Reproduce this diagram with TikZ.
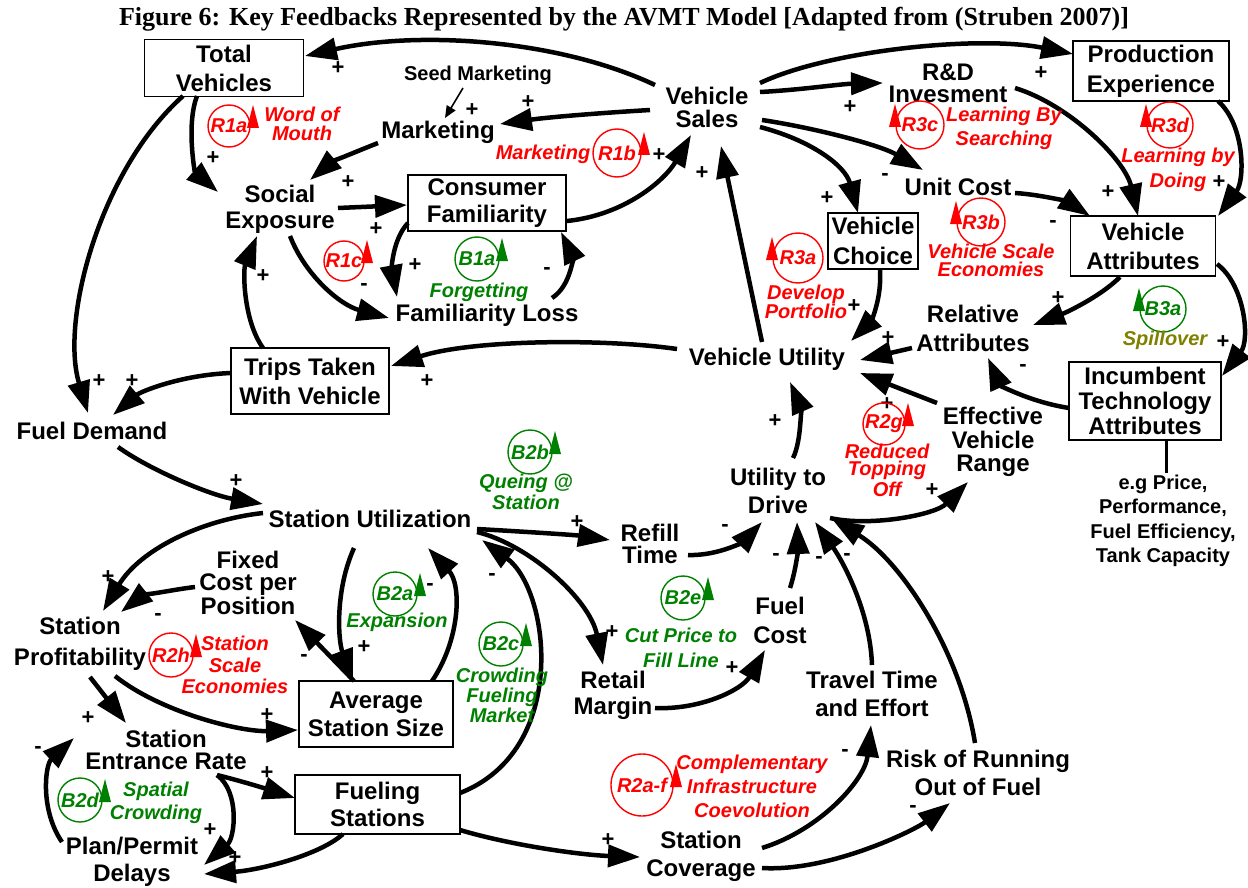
\documentclass[tikz,border=0pt]{standalone}
\usepackage{fontspec}
\setmainfont{Liberation Sans}
\newfontfamily\titlefont{Liberation Serif}
\usetikzlibrary{arrows.meta,calc}
\definecolor{lred}{RGB}{255,0,0}
\definecolor{lgreen}{RGB}{0,128,0}
\definecolor{lolive}{RGB}{128,128,0}
\newcommand{\loopR}[6]{%
  \draw[#6, line width=0.7pt] (#2,#3) circle[radius=#4*0.5pt];
  \fill[#6] (#2+#4+3,#3-21) -- (#2+#4-3,#3+2) -- (#2+#4+9,#3+2) -- cycle;
  \node[lpn, text=#6] (#1) at (#2,#3) {#5};}
\newcommand{\loopL}[6]{%
  \draw[#6, line width=0.7pt] (#2,#3) circle[radius=#4*0.5pt];
  \fill[#6] (#2-#4-1,#3-21) -- (#2-#4-7,#3+2) -- (#2-#4+5,#3+2) -- cycle;
  \node[lpn, text=#6] (#1) at (#2,#3) {#5};}
\begin{document}
\begin{tikzpicture}[x=0.5pt,y=-0.5pt,
  vt/.style={font=\bfseries\fontsize{12}{#1}\selectfont, align=center, inner sep=3pt},
  vt/.default=14.5,
  bx/.style={vt=#1, draw, line width=0.7pt, inner sep=0pt},
  bx/.default=14.5,
  lk/.style={line width=2.25pt, -{Triangle[length=16pt,width=11pt]}},
  pm/.style={font=\bfseries\fontsize{11}{11}\selectfont, inner sep=0pt},
  lpn/.style={font=\bfseries\itshape\fontsize{10}{10}\selectfont, inner sep=0pt},
  lpd/.style={font=\bfseries\itshape\fontsize{10}{#1}\selectfont, align=center, inner sep=0pt},
  lpd/.default=10,
]
\useasboundingbox (0,0) rectangle (1248,888);
\node[font=\titlefont\bfseries\fontsize{13}{13}\selectfont] (title) at (624,19)
  {Figure 6: Key Feedbacks Represented by the AVMT Model [Adapted from (Struben 2007)]};

% ---------- boxes ----------
\node[bx, minimum width=79.5pt, minimum height=28.5pt] (tv) at (224,68) {Total\\Vehicles};
\node[bx=15, minimum width=78pt, minimum height=30pt] (pe) at (1151,71) {Production\\Experience};
\node[bx=13.5, minimum width=79pt, minimum height=28pt] (cf) at (487,203) {Consumer\\Familiarity};
\node[bx=15, minimum width=45pt, minimum height=28pt] (vc) at (873,241) {Vehicle\\Choice};
\node[bx, minimum width=72.5pt, minimum height=30pt] (va) at (1143,246) {Vehicle\\Attributes};
\node[bx, minimum width=79pt, minimum height=33pt] (trips) at (310,381) {Trips Taken\\With Vehicle};
\node[bx=12.3, minimum width=76pt, minimum height=39pt] (ita) at (1145,401) {Incumbent\\Technology\\Attributes};
\node[bx=14, minimum width=77pt, minimum height=33pt] (ass) at (376,714) {Average\\Station Size};
\node[bx=13.5, minimum width=82.5pt, minimum height=29.5pt] (fs) at (377.5,804.5) {Fueling\\Stations};

% ---------- plain variables ----------
\node[font=\bfseries\fontsize{10}{10}\selectfont, inner sep=2pt] (seed) at (478,75) {Seed Marketing};
\node[vt] (mkt) at (438,132) {Marketing};
\node[vt=11.5] (sales) at (707,107) {Vehicle\\Sales};
\node[vt=11] (rd) at (948,83) {R\&D\\Invesment};
\node[vt] (uc) at (958,187) {Unit Cost};
\node[vt=13] (se) at (280,209) {Social\\Exposure};
\node[vt] (fl) at (487,315) {Familiarity Loss};
\node[vt] (ra) at (973,328) {Relative\\Attributes};
\node[vt] (vu) at (767,359) {Vehicle Utility};
\node[vt] (fd) at (92,431) {Fuel Demand};
\node[font=\bfseries\fontsize{10}{12.2}\selectfont, align=center, inner sep=2pt] (eg) at (1163,521)
  {e.g Price,\\Performance,\\Fuel Efficiency,\\Tank Capacity};
\node[vt=11.75] (evr) at (993,442) {Effective\\Vehicle\\Range};
\node[vt=14] (utd) at (778,491) {Utility to\\Drive};
\node[vt] (su) at (370,519) {Station Utilization};
\node[vt=11] (rt) at (650,544) {Refill\\Time};
\node[vt=10.75] (fcp) at (248,583) {Fixed\\Cost per\\Position};
\node[vt=15.5] (sp) at (80,644) {Station\\Profitability};
\node[vt] (fc) at (780,620) {Fuel\\Cost};
\node[vt=13] (rm) at (613,695) {Retail\\Margin};
\node[vt=14] (tt) at (872,694) {Travel Time\\and Effort};
\node[vt=11] (ser) at (166,750) {Station\\Entrance Rate};
\node[vt=14] (risk) at (978,773) {Risk of Running\\Out of Fuel};
\node[vt=13.5] (ppd) at (132,862) {Plan/Permit\\Delays};
\node[vt=14] (sc) at (701,856) {Station\\Coverage};

% ---------- connectors ----------
\draw[lk] ($(sales)+(-52,-22)$) .. controls (560,40) and (420,30) .. ($(tv)+(81,-12)$);
\draw[lk] ($(sales)+(-57,3)$) .. controls (600,113) and (550,117) .. ($(mkt)+(62,-8)$);
\draw[line width=0.8pt, -{Triangle[length=6pt,width=5pt]}] ($(seed)+(-15,13)$) -- ($(mkt)+(7,-14)$);
\draw[lk] ($(mkt)+(-60,11)$) .. controls (355,152) and (330,163) .. ($(se)+(30,-29)$);
\draw[lk] ($(tv)+(-27,28)$) .. controls (186,125) and (195,172) .. ($(se)+(-62,-17)$);
\draw[lk] ($(tv)+(-41,28)$) .. controls (100,170) and (60,320) .. ($(fd)+(-4,-18)$);
\draw[lk] ($(se)+(58,-1)$) -- ($(cf)+(-80,2)$);
\draw[lk] ($(se)+(10,27)$) .. controls (305,275) and (340,305) .. ($(fl)+(-98,3)$);
\draw[lk] ($(cf)+(-79,20)$) .. controls (392,240) and (392,270) .. ($(fl)+(-90,-18)$);
\draw[lk] ($(fl)+(65,-17)$) .. controls (572,285) and (572,255) .. ($(cf)+(74,29)$);
\draw[lk] ($(cf)+(80,18)$) .. controls (625,215) and (665,180) .. ($(sales)+(-16,28)$);
\draw[lk] ($(vu)+(-5,-17)$) -- ($(sales)+(14,39)$);
\draw[lk] ($(trips)+(-47,-33)$) .. controls (243,320) and (243,270) .. ($(se)+(-23,27)$);
\draw[lk] ($(vu)+(-90,-10)$) .. controls (600,338) and (470,340) .. ($(trips)+(81,-15)$);
\draw[lk] ($(trips)+(-79,-8)$) .. controls (180,375) and (140,392) .. ($(fd)+(21,-16)$);
\draw[lk] ($(fd)+(26,16)$) .. controls (150,470) and (210,495) .. ($(su)+(-107,-15)$);
\draw[lk] ($(sales)+(53,-15)$) .. controls (800,90) and (840,84) .. ($(rd)+(-65,0)$);
\draw[lk] ($(sales)+(53,-24)$) .. controls (830,50) and (980,35) .. ($(pe)+(-78,-17)$);
\draw[lk] ($(sales)+(55,13)$) .. controls (815,128) and (880,145) .. ($(uc)+(-35,-17)$);
\draw[lk] ($(sales)+(53,20)$) .. controls (810,140) and (845,165) .. ($(vc)+(-15,-28)$);
\draw[lk] ($(rd)+(67,5)$) .. controls (1070,105) and (1125,160) .. ($(va)+(-5,-30)$);
\draw[lk] ($(pe)+(67,30)$) .. controls (1245,125) and (1245,180) .. ($(va)+(75,-30)$);
\draw[lk] ($(uc)+(57,6)$) .. controls (1045,195) and (1070,203) .. ($(va)+(-53,-30)$);
\draw[lk] ($(vc)+(7,29)$) .. controls (882,300) and (870,322) .. ($(vu)+(84,-18)$);
\draw[lk] ($(va)+(-23,31)$) .. controls (1100,297) and (1065,313) .. ($(ra)+(60,-3)$);
\draw[lk] ($(va)+(74,18)$) .. controls (1245,285) and (1250,340) .. ($(ita)+(77,-25)$);
\draw[lk] ($(ra)+(-61,20)$) -- ($(vu)+(93,1)$);
\draw[lk] ($(ita)+(-76,7)$) .. controls (1030,402) and (1000,385) .. ($(ra)+(15,30)$);
\draw[lk] ($(evr)+(-56,-39)$) -- ($(vu)+(93,14)$);
\draw[lk] ($(utd)+(15,-33)$) .. controls (802,440) and (800,405) .. ($(vu)+(23,23)$);
\draw[lk] ($(utd)+(52,27)$) .. controls (870,527) and (935,515) .. ($(evr)+(-25,40)$);
\draw[lk] ($(su)+(107,10)$) .. controls (530,532) and (575,535) .. ($(rt)+(-40,-4)$);
\draw[lk] ($(rt)+(38,11)$) .. controls (720,556) and (745,540) .. ($(utd)+(-16,31)$);
\draw[lk] ($(fc)+(10,-32)$) .. controls (796,570) and (798,548) .. ($(utd)+(19,31)$);
\draw[lk] ($(tt)+(0,-29)$) .. controls (870,610) and (842,560) .. ($(utd)+(37,31)$);
\draw[lk] ($(risk)+(-3,-30)$) .. controls (960,650) and (900,560) .. ($(utd)+(54,28)$);
\draw[lk] ($(su)+(107,13)$) .. controls (530,545) and (590,600) .. ($(rm)+(-10,-30)$);
\draw[lk] ($(fs)+(82.5,-11.5)$) .. controls (570,750) and (550,590) .. ($(su)+(112,21)$);
\draw[lk] ($(ass)+(56,-33)$) .. controls (460,640) and (462,585) .. ($(su)+(58,29)$);
\draw[lk] ($(su)+(-16,29)$) .. controls (335,590) and (338,640) .. ($(ass)+(-23,-33)$);
\draw[lk] ($(ass)+(-22,-33)$) -- ($(fcp)+(47,37)$);
\draw[lk] ($(fcp)+(-53,4)$) .. controls (170,590) and (140,597) .. ($(sp)+(41,-32)$);
\draw[lk] ($(su)+(-107,-6)$) .. controls (200,520) and (140,550) .. ($(sp)+(23,-33)$);
\draw[lk] ($(sp)+(35,32)$) .. controls (160,712) and (240,732) .. ($(ass)+(-78,16)$);
\draw[lk] ($(sp)+(10,33)$) -- ($(ser)+(-40,-27)$);
\draw[lk] ($(ppd)+(-70,-20)$) .. controls (40,810) and (45,765) .. ($(ser)+(-92,-12)$);
\draw[lk] ($(ser)+(51,25)$) .. controls (245,782) and (270,790) .. ($(fs)+(-82.5,-6.5)$);
\draw[lk] ($(ser)+(51,25)$) .. controls (240,792) and (235,838) .. ($(ppd)+(72,3)$);
\draw[lk] ($(fs)+(-34.5,29.5)$) .. controls (320,855) and (260,870) .. ($(ppd)+(72,12)$);
\draw[lk] ($(fs)+(82.5,25.5)$) .. controls (510,845) and (580,855) .. ($(sc)+(-61,1)$);
\draw[lk] ($(sc)+(61,-8)$) .. controls (820,830) and (865,780) .. ($(tt)+(-1,31)$);
\draw[lk] ($(sc)+(61,12)$) .. controls (830,872) and (915,830) .. ($(risk)+(-28,30)$);
\draw[lk] ($(rm)+(42,13)$) .. controls (700,710) and (742,690) .. ($(fc)+(-15,30)$);
\draw[line width=1.5pt] ($(ita)+(21,39)$) -- ($(eg)+(3,-48)$);

% ---------- polarities ----------
\node[pm] (p1) at (338,68) {+};
\node[pm] (p2) at (528,102) {+};
\node[pm] (p3) at (472,110) {+};
\node[pm] (p4) at (213,158) {+};
\node[pm] (p5) at (348,182) {+};
\node[pm] (p6) at (376,229) {+};
\node[pm] (p7) at (364,287) {-};
\node[pm] (p8) at (415,265) {+};
\node[pm] (p9) at (547,271) {-};
\node[pm] (p10) at (659,155) {+};
\node[pm] (p11) at (702,173) {+};
\node[pm] (p12) at (263,276) {+};
\node[pm] (p13) at (99,381) {+};
\node[pm] (p14) at (132,381) {+};
\node[pm] (p15) at (427,381) {+};
\node[pm] (p16) at (236,481) {+};
\node[pm] (p17) at (850,107) {+};
\node[pm] (p18) at (1041,73) {+};
\node[pm] (p19) at (885,177) {-};
\node[pm] (p20) at (827,198) {+};
\node[pm] (p21) at (1108,192) {+};
\node[pm] (p22) at (1219,182) {+};
\node[pm] (p23) at (1053,224) {-};
\node[pm] (p24) at (854,306) {+};
\node[pm] (p25) at (1058,298) {+};
\node[pm] (p26) at (1223,342) {+};
\node[pm] (p27) at (888,338) {+};
\node[pm] (p28) at (1023,368) {-};
\node[pm] (p29) at (887,404) {+};
\node[pm] (p30) at (775,421) {+};
\node[pm] (p31) at (932,490) {+};
\node[pm] (p32) at (577,522) {+};
\node[pm] (p33) at (725,528) {-};
\node[pm] (p34) at (776,557) {-};
\node[pm] (p35) at (819,560) {-};
\node[pm] (p36) at (847,557) {-};
\node[pm] (p37) at (612,632) {+};
\node[pm] (p38) at (492,577) {-};
\node[pm] (p39) at (430,587) {-};
\node[pm] (p40) at (364,647) {+};
\node[pm] (p41) at (304,658) {-};
\node[pm] (p42) at (158,617) {-};
\node[pm] (p43) at (108,577) {+};
\node[pm] (p44) at (267,715) {+};
\node[pm] (p45) at (88,718) {+};
\node[pm] (p46) at (38,750) {-};
\node[pm] (p47) at (267,773) {+};
\node[pm] (p48) at (210,830) {+};
\node[pm] (p49) at (235,858) {+};
\node[pm] (p50) at (608,840) {+};
\node[pm] (p51) at (845,753) {-};
\node[pm] (p52) at (913,809) {-};
\node[pm] (p53) at (732,668) {+};

% ---------- loop markers ----------
\loopR{l1}{229}{126}{21}{R1a}{lred}
\loopR{l2}{617}{153}{24}{R1b}{lred}
\loopR{l3}{344}{261}{20}{R1c}{lred}
\loopR{l4}{477}{259}{22}{B1a}{lgreen}
\loopL{l5}{920}{125}{24}{R3c}{lred}
\loopL{l6}{1170}{125}{23}{R3d}{lred}
\loopL{l7}{981}{222}{24}{R3b}{lred}
\loopL{l8}{798}{258}{25}{R3a}{lred}
\loopL{l9}{1163}{309}{23}{B3a}{lgreen}
\loopR{l10}{884}{424}{21}{R2g}{lred}
\loopR{l11}{530}{452}{22}{B2b}{lgreen}
\loopR{l12}{395}{594}{22}{B2a}{lgreen}
\loopR{l13}{501}{644}{22}{B2c}{lgreen}
\loopR{l14}{171}{655}{22}{R2h}{lred}
\loopR{l15}{683}{598}{22}{B2e}{lgreen}
\loopR{l16}{80}{800}{22}{B2d}{lgreen}
\loopR{l17}{642}{785}{31}{R2a-f}{lred}

% ---------- loop names ----------
\node[lpd=9.5, text=lred] (d1) at (302,124) {Word of\\Mouth};
\node[lpd, text=lred] (d2) at (543,154) {Marketing};
\node[lpd, text=lgreen] (d3) at (479,292) {Forgetting};
\node[lpd=12, text=lred] (d4) at (1004,128) {Learning By\\Searching};
\node[lpd=12.5, text=lred] (d5) at (1178,170) {Learning by\\Doing};
\node[lpd=9, text=lred] (d6) at (991,260) {Vehicle Scale\\Economies};
\node[lpd=9.5, text=lred] (d7) at (806,302) {Develop\\Portfolio};
\node[lpd, text=lolive] (d8) at (1165,340) {Spillover};
\node[lpd=8.75, text=lred] (d9) at (887,470) {Reduced\\Topping\\Off};
\node[lpd=10.5, text=lgreen] (d10) at (526,492) {Queing @\\Station};
\node[lpd, text=lgreen] (d11) at (397,622) {Expansion};
\node[lpd=10, text=lgreen] (d12) at (502,695) {Crowding\\Fueling\\Market};
\node[lpd=10.75, text=lred] (d13) at (235,665) {Station\\Scale\\Economies};
\node[lpd=12.5, text=lgreen] (d14) at (681,648) {Cut Price to\\Fill Line};
\node[lpd=11.5, text=lgreen] (d15) at (156,803) {Spatial\\Crowding};
\node[lpd=12, text=lred] (d16) at (752,786) {Complementary\\Infrastructure\\Coevolution};
\end{tikzpicture}
\end{document}
